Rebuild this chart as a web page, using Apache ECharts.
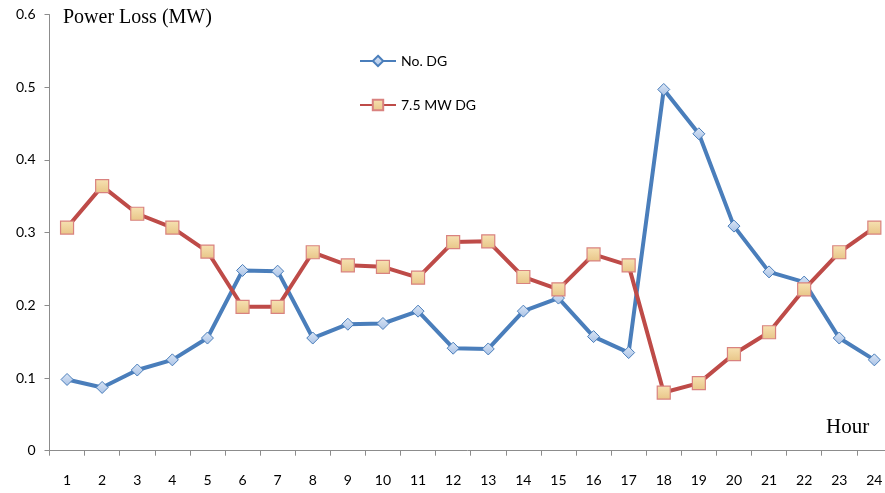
<!DOCTYPE html>
<html>
<head>
<meta charset="utf-8">
<script src="https://cdn.jsdelivr.net/npm/echarts@6/dist/echarts.min.js"></script>
<style>
  html, body { margin: 0; padding: 0; background: #fff; }
  #chart { width: 885px; height: 493px; }
</style>
</head>
<body>
<div id="chart"></div>
<script>
// Hours of the day
var hours = ['1','2','3','4','5','6','7','8','9','10','11','12','13','14','15','16','17','18','19','20','21','22','23','24'];

// Power loss (MW) without distributed generation
var noDG = [0.098, 0.087, 0.111, 0.125, 0.155, 0.248, 0.247, 0.155, 0.174, 0.175, 0.192, 0.141, 0.140, 0.192, 0.210, 0.157, 0.135, 0.497, 0.436, 0.309, 0.246, 0.232, 0.155, 0.125];

// Power loss (MW) with a 7.5 MW DG unit
var dg75 = [0.307, 0.364, 0.326, 0.307, 0.274, 0.198, 0.198, 0.273, 0.255, 0.253, 0.238, 0.287, 0.288, 0.239, 0.222, 0.270, 0.255, 0.080, 0.093, 0.133, 0.163, 0.222, 0.273, 0.307];

var yTicks = { min: 0, max: 0.6, interval: 0.1 };

var sansFont = 'Lato, "Open Sans", sans-serif';
var serifFont = '"Liberation Serif", "DejaVu Serif", serif';

var chart = echarts.init(document.getElementById('chart'), null, { renderer: 'canvas' });

var blueFill = new echarts.graphic.LinearGradient(0, 0, 0, 1, [
  { offset: 0, color: '#dbe6f5' },
  { offset: 1, color: '#a9c2e6' }
]);
var tanFill = new echarts.graphic.LinearGradient(0, 0, 0, 1, [
  { offset: 0, color: '#f7e2b3' },
  { offset: 1, color: '#e8c587' }
]);

chart.setOption({
  animation: false,
  backgroundColor: '#ffffff',
  // the plot runs slightly past the right edge, so the last hour sits near the border
  grid: {
    left: 49.5, width: 842.4, top: 14.6, bottom: 42.3,
    containLabel: false,
    outerBoundsMode: 'none'
  },
  legend: {
    orient: 'vertical',
    left: 354,
    top: 49,
    itemWidth: 36,
    itemHeight: 13,
    itemGap: 30,
    textStyle: { fontFamily: sansFont, fontSize: 14, color: '#000' },
    data: ['No. DG', '7.5 MW DG']
  },
  xAxis: {
    type: 'category',
    data: hours,
    boundaryGap: true,
    axisLine: { lineStyle: { color: '#8c8c8c', width: 1 } },
    axisTick: { show: true, length: 5, lineStyle: { color: '#8c8c8c' } },
    axisLabel: { margin: 23, fontFamily: sansFont, fontSize: 14, color: '#000' },
    splitLine: { show: false }
  },
  yAxis: {
    type: 'value',
    min: yTicks.min,
    max: yTicks.max,
    interval: yTicks.interval,
    axisLine: { show: true, lineStyle: { color: '#8c8c8c', width: 1 } },
    axisTick: { show: true, length: 5, lineStyle: { color: '#8c8c8c' } },
    axisLabel: { margin: 14, fontFamily: sansFont, fontSize: 14, color: '#000' },
    splitLine: { show: false }
  },
  graphic: [
    {
      type: 'text',
      left: 63,
      top: 8,
      style: { text: 'Power Loss (MW)', fontFamily: serifFont, fontSize: 20, fill: '#000' }
    },
    {
      type: 'text',
      left: 826,
      top: 417,
      style: { text: 'Hour', fontFamily: serifFont, fontSize: 21, fill: '#000' }
    }
  ],
  series: [
    {
      name: 'No. DG',
      type: 'line',
      data: noDG,
      symbol: 'diamond',
      symbolSize: 12,
      lineStyle: { color: '#4a7ebb', width: 4 },
      itemStyle: { color: blueFill, borderColor: '#4a7ebb', borderWidth: 1 },
      z: 3
    },
    {
      name: '7.5 MW DG',
      type: 'line',
      data: dg75,
      symbol: 'rect',
      symbolSize: 13,
      lineStyle: { color: '#be4b48', width: 4 },
      itemStyle: { color: tanFill, borderColor: '#d9827f', borderWidth: 1.2 },
      z: 4
    }
  ]
});
</script>
</body>
</html>
